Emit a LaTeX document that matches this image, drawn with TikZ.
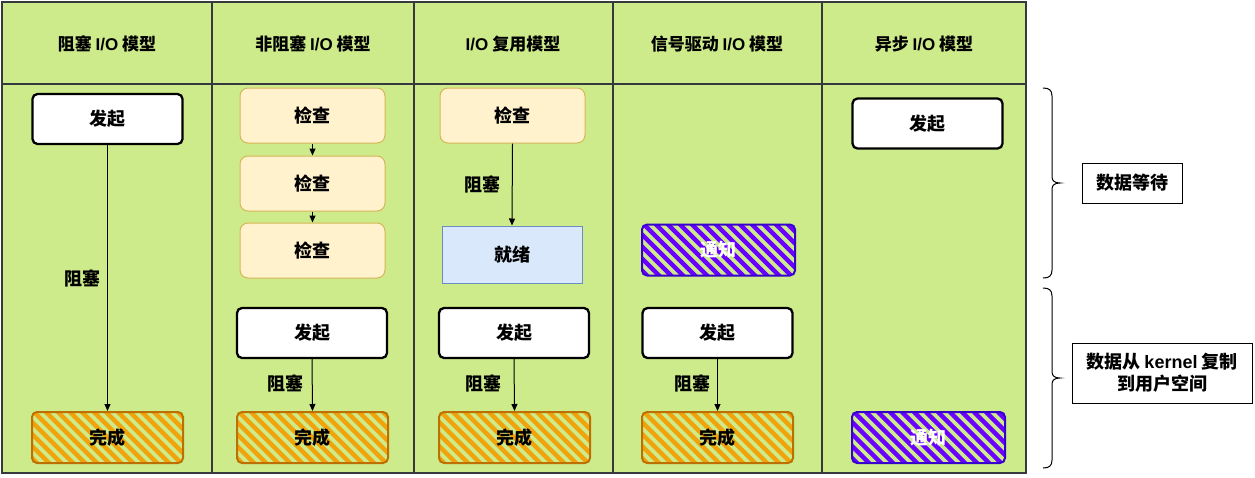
\documentclass[tikz,border=0pt]{standalone}
\usepackage{fontspec}
\setmainfont{Noto Sans CJK SC}
\newfontfamily\latfont{Liberation Sans}
\usetikzlibrary{arrows.meta}
\definecolor{tablegreen}{HTML}{CDEB8B}
\definecolor{tableline}{HTML}{36393D}
\definecolor{checkfill}{HTML}{FFF2CC}
\definecolor{checkline}{HTML}{D6B656}
\definecolor{readyfill}{HTML}{DAE8FC}
\definecolor{readyline}{HTML}{6C8EBF}
\definecolor{donehatch}{HTML}{F0A30A}
\definecolor{doneline}{HTML}{BD7000}
\definecolor{notehatch}{HTML}{6A00FF}
\definecolor{noteline}{HTML}{3700CC}
\begin{document}
\begin{tikzpicture}[x=1pt,y=-1pt,
  base/.style={font=\bfseries\fontsize{18}{22}\selectfont, inner sep=0pt, text=black},
  head/.style={font=\bfseries\fontsize{17}{20}\selectfont, inner sep=0pt},
  sketchbox/.style={base, draw=black, line width=2.3pt, rounded corners=5pt, fill=white, minimum width=150pt, minimum height=50pt},
  checkbox/.style={base, draw=checkline, fill=checkfill, line width=1pt, rounded corners=8pt, minimum width=145pt, minimum height=55pt},
  readybox/.style={base, draw=readyline, fill=readyfill, line width=1pt, minimum width=140pt, minimum height=57pt},
  hatch/.style={path picture={\foreach \i in {-70,-58,...,170}{\draw[line width=4.5pt, line cap=round, #1] ([xshift=\i pt]path picture bounding box.north west) -- ++(75,75);}}},
  donebox/.style={base, draw=doneline, line width=2pt, rounded corners=5pt, minimum width=151pt, minimum height=51pt, hatch=donehatch},
  notebox/.style={base, draw=noteline, line width=2pt, rounded corners=5pt, minimum width=153pt, minimum height=51pt, hatch=notehatch, text=white},
  lbl/.style={base},
  sidebox/.style={base, draw=black, line width=1pt, fill=white, align=center},
  conn/.style={-{Triangle[length=7pt,width=6pt]}, line width=1pt, black},
  brace/.style={line width=1pt, black}]
\useasboundingbox (0,0) rectangle (1255,477);
% table
\draw[tableline, line width=1.3pt, fill=tablegreen] (2,2) rectangle (1026,473);
\draw[tableline, line width=1.3pt] (2,84) -- (1026,84);
\foreach \x in {212,414,613,822} \draw[tableline, line width=1.3pt] (\x,2) -- (\x,473);
% headers
\node[head] (h1) at (107,44) {阻塞 {\latfont I/O} 模型};
\node[head] (h2) at (313,44) {非阻塞 {\latfont I/O} 模型};
\node[head] (h3) at (513,44) {{\latfont I/O} 复用模型};
\node[head] (h4) at (717,44) {信号驱动 {\latfont I/O} 模型};
\node[head] (h5) at (924,44) {异步 {\latfont I/O} 模型};
% column 1
\node[sketchbox] (s1) at (107.5,119) {发起};
\node[donebox] (d1) at (107.5,437.5) {完成};
\draw[conn] (s1.south) -- (d1.north);
\node[lbl] (l1) at (82,278) {阻塞};
% column 2
\node[checkbox] (k1) at (312.5,115.5) {检查};
\node[checkbox] (k2) at (312.5,183.5) {检查};
\node[checkbox] (k3) at (312.5,250.5) {检查};
\draw[conn] (k1.south) -- (k2.north);
\draw[conn] (k2.south) -- (k3.north);
\node[sketchbox] (s2) at (312,333) {发起};
\node[donebox] (d2) at (312.5,437.5) {完成};
\draw[conn] (s2.south) -- (d2.north);
\node[lbl] (l2) at (285,383) {阻塞};
% column 3
\node[checkbox] (k4) at (512.5,115.5) {检查};
\node[readybox] (r3) at (512,254.5) {就绪};
\draw[conn] (k4.south) -- (r3.north);
\node[lbl] (l3a) at (482,184) {阻塞};
\node[sketchbox] (s3) at (514,333) {发起};
\node[donebox] (d3) at (514.5,437.5) {完成};
\draw[conn] (s3.south) -- (d3.north);
\node[lbl] (l3b) at (483,383) {阻塞};
% column 4
\node[notebox] (n4) at (718.5,250) {通知};
\node[sketchbox] (s4) at (717.5,333) {发起};
\node[donebox] (d4) at (717.5,437.5) {完成};
\draw[conn] (s4.south) -- (d4.north);
\node[lbl] (l4) at (692,383) {阻塞};
% column 5
\node[sketchbox] (s5) at (927.5,123.5) {发起};
\node[notebox] (n5) at (928.5,437.5) {通知};
% braces
\draw[brace] (1043,88) .. controls (1049,88) and (1052,90) .. (1052,96) -- (1052,177) .. controls (1052,181) and (1055,183) .. (1060,183) .. controls (1055,183) and (1052,185) .. (1052,189) -- (1052,270) .. controls (1052,276) and (1049,278) .. (1043,278);
\draw[brace] (1043,288) .. controls (1049,288) and (1052,290) .. (1052,296) -- (1052,372) .. controls (1052,376) and (1055,378) .. (1060,378) .. controls (1055,378) and (1052,380) .. (1052,384) -- (1052,460) .. controls (1052,466) and (1049,468) .. (1043,468);
% side boxes
\node[sidebox, minimum width=100pt, minimum height=40pt] (w1) at (1132,183) {数据等待};
\node[sidebox, minimum width=180pt, minimum height=60pt] (w2) at (1162,373) {数据从 {\latfont kernel} 复制\\到用户空间};
\end{tikzpicture}
\end{document}
